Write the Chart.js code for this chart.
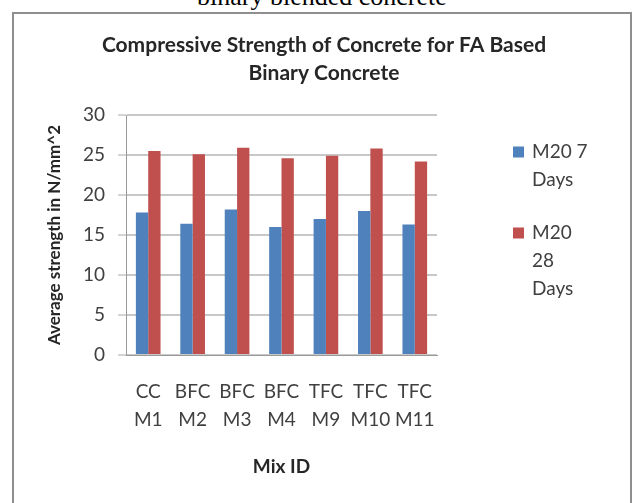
<!DOCTYPE html>
<html>
<head>
<meta charset="utf-8">
<script src="https://cdn.jsdelivr.net/npm/chart.js@4/dist/chart.umd.min.js"></script>
<style>
  html, body { margin: 0; padding: 0; background: #fff; width: 633px; height: 503px; overflow: hidden; }
  #caption { position: absolute; left: 197px; top: -16px; font: 26px/26px "Liberation Serif", "Times New Roman", serif; color: #000; white-space: nowrap; }
  #frame { position: absolute; left: 12px; top: 12px; width: 620px; height: 520px; border: 2px solid #8f8f8f; box-sizing: border-box; }
  #chart { position: absolute; left: 0; top: 0; }
</style>
</head>
<body>
<div id="caption">binary blended concrete</div>
<div id="frame"></div>
<canvas id="chart" width="633" height="503"></canvas>
<script>
// Mix designs on the category axis (two-line labels)
const mixIds = [["CC", "M1"], ["BFC", "M2"], ["BFC", "M3"], ["BFC", "M4"], ["TFC", "M9"], ["TFC", "M10"], ["TFC", "M11"]];

// Average compressive strength, N/mm^2
const strength7Days = [17.8, 16.4, 18.2, 16.0, 17.0, 18.0, 16.3];
const strength28Days = [25.5, 25.1, 25.9, 24.6, 24.9, 25.8, 24.2];

// Series names, as wrapped in the side legend
const seriesLines = [["M20 7", "Days"], ["M20", "28", "Days"]];

// Value axis
const yMin = 0;
const yMax = 30;
const yStep = 5;

const FONT = "Lato, 'Open Sans', sans-serif";

// Legend drawn to the right of the plot, with wrapped labels
const sideLegend = {
  id: 'sideLegend',
  afterDraw(chart, args, opts) {
    const ctx = chart.ctx;
    ctx.save();
    ctx.font = opts.fontSize + 'px ' + FONT;
    ctx.textBaseline = 'middle';
    ctx.textAlign = 'left';
    let y = opts.top;
    chart.data.datasets.forEach((ds, i) => {
      const lines = opts.lines[i];
      ctx.fillStyle = ds.backgroundColor;
      ctx.fillRect(opts.x, y - opts.box / 2, opts.box, opts.box);
      ctx.fillStyle = opts.color;
      lines.forEach((line, j) => ctx.fillText(line, opts.x + opts.box + opts.gap, y + j * opts.lineHeight));
      y += lines.length * opts.lineHeight + opts.itemGap;
    });
    ctx.restore();
  }
};

new Chart(document.getElementById('chart'), {
  type: 'bar',
  data: {
    labels: mixIds,
    datasets: [
      { label: seriesLines[0].join(' '), data: strength7Days, backgroundColor: '#4f81bd' },
      { label: seriesLines[1].join(' '), data: strength28Days, backgroundColor: '#c0504d' }
    ]
  },
  options: {
    responsive: false,
    animation: false,
    layout: { padding: { left: 16, right: 1, top: 0, bottom: 0 } },
    datasets: { bar: { categoryPercentage: 0.555, barPercentage: 1 } },
    plugins: {
      legend: { display: false },
      tooltip: { enabled: false },
      title: {
        display: true,
        text: ['Compressive Strength of Concrete for FA Based', 'Binary Concrete'],
        color: '#262626',
        font: { family: FONT, size: 21, weight: 'bold', lineHeight: '28px' },
        padding: { top: 31, bottom: 28 }
      },
      sideLegend: {
        lines: seriesLines,
        x: 513, top: 152, box: 11, gap: 8,
        lineHeight: 28, itemGap: 25, fontSize: 19, color: '#404040'
      }
    },
    scales: {
      x: {
        grid: { display: false, drawTicks: false },
        border: { display: true, color: '#9a9a9a', width: 1 },
        ticks: {
          color: '#404040', autoSkip: false, maxRotation: 0, minRotation: 0,
          padding: 23,
          font: { family: FONT, size: 19, lineHeight: '28px' }
        },
        title: {
          display: true, text: 'Mix ID', color: '#262626',
          font: { family: FONT, size: 19, weight: 'bold', lineHeight: '20px' },
          padding: { top: 0, bottom: 26 }
        },
        afterFit(scale) { scale.height = 148; }
      },
      y: {
        min: yMin, max: yMax,
        grid: { color: '#c8c8c8', lineWidth: 2, drawTicks: true, tickLength: 8, tickColor: '#a8a8a8', tickWidth: 1 },
        border: { display: true, color: '#9a9a9a', width: 1 },
        ticks: {
          stepSize: yStep, color: '#404040', padding: 13,
          font: { family: FONT, size: 19 }
        },
        title: {
          display: true, text: 'Average strength in N/mm^2', color: '#262626',
          font: { family: FONT, size: 17, weight: 'bold', lineHeight: '20px' },
          padding: { top: 29, bottom: 0 }
        },
        afterFit(scale) { scale.width = 110; }
      },
      legendSpace: {
        type: 'linear', position: 'right', display: true,
        grid: { display: false, drawTicks: false },
        border: { display: false },
        ticks: { display: false },
        afterFit(scale) { scale.width = 195; }
      }
    }
  },
  plugins: [sideLegend]
});
</script>
</body>
</html>
